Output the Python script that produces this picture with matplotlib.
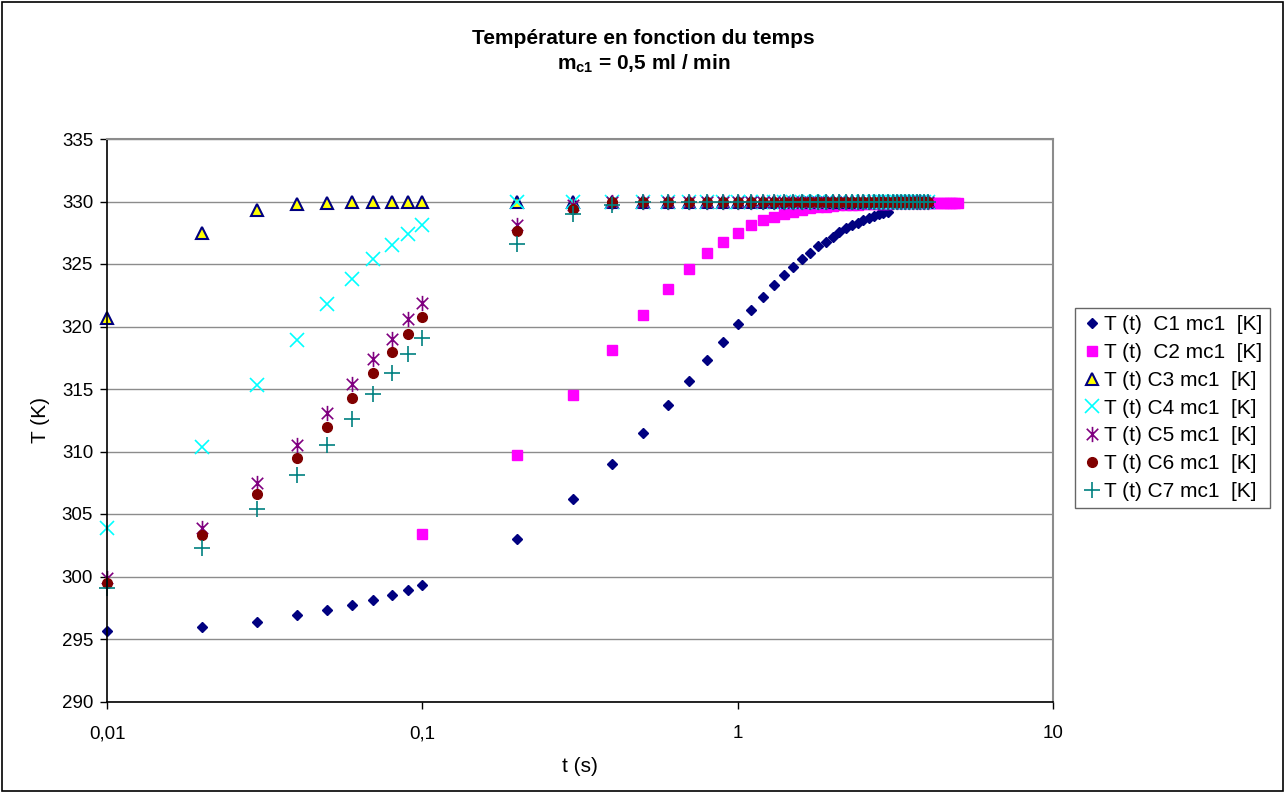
import numpy as np
import matplotlib
matplotlib.use("Agg")
import matplotlib.pyplot as plt
from matplotlib.path import Path
from matplotlib.patches import Rectangle
from matplotlib.ticker import FixedLocator, FixedFormatter, NullLocator

plt.rcParams['font.family'] = ['Liberation Sans', 'DejaVu Sans']
plt.rcParams['mathtext.fontset'] = 'custom'
plt.rcParams['mathtext.rm'] = 'Liberation Sans'
plt.rcParams['mathtext.bf'] = 'Liberation Sans:bold'
plt.rcParams['mathtext.it'] = 'Liberation Sans:italic'

# time steps (s): 0.01 -> 0.1 by 0.01, then 0.2 -> 5.0 by 0.1
t = [0.01, 0.02, 0.03, 0.04, 0.05, 0.06, 0.07, 0.08, 0.09, 0.1,
     0.2, 0.3, 0.4, 0.5, 0.6, 0.7, 0.8, 0.9, 1.0,
     1.1, 1.2, 1.3, 1.4, 1.5, 1.6, 1.7, 1.8, 1.9, 2.0,
     2.1, 2.2, 2.3, 2.4, 2.5, 2.6, 2.7, 2.8, 2.9, 3.0,
     3.1, 3.2, 3.3, 3.4, 3.5, 3.6, 3.7, 3.8, 3.9, 4.0,
     4.1, 4.2, 4.3, 4.4, 4.5, 4.6, 4.7, 4.8, 4.9, 5.0]

# temperatures (K) per thermocouple
T_c1 = [295.6, 296.0, 296.4, 296.9, 297.3, 297.7, 298.1, 298.5, 298.9, 299.3,
        303.0, 306.2, 309.0, 311.5, 313.7, 315.6, 317.3, 318.8, 320.2,
        321.3, 322.4, 323.3, 324.1, 324.8, 325.4, 325.9, 326.45, 326.8, 327.2,
        327.55, 327.85, 328.1, 328.3, 328.5, 328.7, 328.85, 329.0, 329.1, 329.2]

# C2 starts at t = 0.1 (earlier values are below 290 K)
T_c2 = [303.4,
        309.7, 314.5, 318.1, 320.9, 323.0, 324.6, 325.9, 326.8, 327.5,
        328.1, 328.5, 328.8, 329.0, 329.2, 329.35, 329.45, 329.55, 329.6, 329.65,
        329.7, 329.72, 329.74, 329.76, 329.78, 329.8, 329.81, 329.82, 329.83, 329.84,
        329.85, 329.85, 329.85, 329.85, 329.85, 329.85, 329.85, 329.85, 329.86, 329.86,
        329.86, 329.86, 329.86, 329.86, 329.86, 329.86, 329.86, 329.86, 329.86, 329.86]

T_c3 = [320.7, 327.5, 329.3, 329.8, 329.9, 330.0, 330.0, 330.0, 330.0, 330.0,
        330.0, 330.0, 330.0, 330.0, 330.0, 330.0, 330.0, 330.0, 330.0,
        330.0, 330.0, 330.0, 330.0, 330.0, 330.0, 330.0, 330.0, 330.0, 330.0,
        330.0, 330.0, 330.0, 330.0, 330.0, 330.0, 330.0, 330.0, 330.0, 330.0,
        330.0, 330.0, 330.0, 330.0, 330.0, 330.0, 330.0, 330.0, 330.0, 330.0]

T_c4 = [303.9, 310.4, 315.3, 318.9, 321.8, 323.8, 325.4, 326.5, 327.4, 328.1,
        330.0, 330.0, 330.0, 330.0, 330.0, 330.0, 330.0, 330.0, 330.0,
        330.0, 330.0, 330.0, 330.0, 330.0, 330.0, 330.0, 330.0, 330.0, 330.0,
        330.0, 330.0, 330.0, 330.0, 330.0, 330.0, 330.0, 330.0, 330.0, 330.0,
        330.0, 330.0, 330.0, 330.0, 330.0, 330.0, 330.0, 330.0, 330.0, 330.0]

T_c5 = [299.9, 303.9, 307.5, 310.5, 313.1, 315.4, 317.4, 319.0, 320.6, 321.9,
        328.1, 329.7, 330.0, 330.0, 330.0, 330.0, 330.0, 330.0, 330.0,
        330.0, 330.0, 330.0, 330.0, 330.0, 330.0, 330.0, 330.0, 330.0, 330.0,
        330.0, 330.0, 330.0, 330.0, 330.0, 330.0, 330.0, 330.0, 330.0, 330.0,
        330.0, 330.0, 330.0, 330.0, 330.0, 330.0, 330.0, 330.0, 330.0, 330.0]

T_c6 = [299.5, 303.3, 306.6, 309.5, 312.0, 314.3, 316.3, 318.0, 319.4, 320.8,
        327.6, 329.4, 330.0, 330.0, 330.0, 330.0, 330.0, 330.0, 330.0,
        330.0, 330.0, 330.0, 330.0, 330.0, 330.0, 330.0, 330.0, 330.0, 330.0,
        330.0, 330.0, 330.0, 330.0, 330.0, 330.0, 330.0, 330.0, 330.0, 330.0,
        330.0, 330.0, 330.0, 330.0, 330.0, 330.0, 330.0, 330.0, 330.0, 330.0]

T_c7 = [299.1, 302.3, 305.4, 308.1, 310.5, 312.6, 314.6, 316.3, 317.8, 319.1,
        326.6, 329.0, 329.7, 330.0, 330.0, 330.0, 330.0, 330.0, 330.0,
        330.0, 330.0, 330.0, 330.0, 330.0, 330.0, 330.0, 330.0, 330.0, 330.0,
        330.0, 330.0, 330.0, 330.0, 330.0, 330.0, 330.0, 330.0, 330.0, 330.0,
        330.0, 330.0, 330.0, 330.0, 330.0, 330.0, 330.0, 330.0, 330.0, 330.0]

labels = ["T (t)  C1 mc1  [K]", "T (t)  C2 mc1  [K]", "T (t) C3 mc1  [K]",
          "T (t) C4 mc1  [K]", "T (t) C5 mc1  [K]", "T (t) C6 mc1  [K]",
          "T (t) C7 mc1  [K]"]

x_ticks = [0.01, 0.1, 1, 10]
x_ticklabels = ["0,01", "0,1", "1", "10"]
y_ticks = [290, 295, 300, 305, 310, 315, 320, 325, 330, 335]

# asterisk marker: an X with a vertical bar through it
asterisk = Path([(0, -1), (0, 1), (-0.75, -0.75), (0.75, 0.75), (-0.75, 0.75), (0.75, -0.75)],
                [Path.MOVETO, Path.LINETO, Path.MOVETO, Path.LINETO, Path.MOVETO, Path.LINETO])

fig = plt.figure(figsize=(12.85, 7.93), dpi=100)
ax = fig.add_axes([107 / 1285, 1 - 701.5 / 793, (1053 - 107) / 1285, (701.5 - 139) / 793])

n1 = len(T_c1)
n2 = len(T_c2)
n3 = len(T_c3)
common = dict(ls='none', clip_on=False)
ax.plot(t[:n1], T_c1, marker='D', ms=5.5, color='#000080', label=labels[0], **common)
ax.plot(t[9:9 + n2], T_c2, marker='s', ms=6.5, color='#FF00FF', label=labels[1], **common)
ax.plot(t[:n3], T_c3, marker='^', ms=8.5, mfc='#FFFF00', mec='#000080', mew=1.5, label=labels[2], **common)
ax.plot(t[:n3], T_c4, marker='x', ms=9.5, mew=1.2, color='#00FFFF', label=labels[3], **common)
ax.plot(t[:n3], T_c5, marker=asterisk, ms=11, mew=1.2, color='#800080', label=labels[4], **common)
ax.plot(t[:n3], T_c6, marker='o', ms=7, color='#800000', label=labels[5], **common)
ax.plot(t[:n3], T_c7, marker='+', ms=11, mew=1.2, color='#008080', label=labels[6], **common)

ax.set_xscale('log')
ax.set_xlim(0.01, 10)
ax.set_ylim(290, 335)
ax.xaxis.set_major_locator(FixedLocator(x_ticks))
ax.xaxis.set_major_formatter(FixedFormatter(x_ticklabels))
ax.xaxis.set_minor_locator(NullLocator())
ax.set_yticks(y_ticks)
ax.tick_params(axis='both', labelsize=13.5, direction='out', length=5, width=1, color='black')
ax.tick_params(axis='x', pad=12)
ax.tick_params(axis='y', pad=5)

ax.yaxis.grid(True, color='#8c8c8c', lw=1)
ax.set_axisbelow(True)
for side in ['top', 'right']:
    ax.spines[side].set_color('#8c8c8c')
    ax.spines[side].set_linewidth(1.5)
for side in ['left', 'bottom']:
    ax.spines[side].set_color('black')
    ax.spines[side].set_linewidth(1.2)

fig.text(0.501, 1 - 38 / 793, "Température en fonction du temps", ha='center', va='center',
         fontsize=15, fontweight='bold')
fig.text(0.501, 1 - 64 / 793, r"$\mathbf{m_{c1}}$ = 0,5 ml / min", ha='center', va='center',
         fontsize=15, fontweight='bold')
fig.text(40 / 1285, 1 - 420 / 793, "T (K)", rotation=90, ha='center', va='center', fontsize=15)
fig.text(580 / 1285, 1 - 766 / 793, "t (s)", ha='center', va='center', fontsize=15)

leg = fig.legend(loc='upper left', bbox_to_anchor=(1075 / 1285, 1 - 308 / 793),
                 fontsize=15, frameon=True, fancybox=False, edgecolor='#404040',
                 handlelength=0.9, handletextpad=0.15, labelspacing=0.42,
                 borderpad=0.35, borderaxespad=0)
leg.get_frame().set_linewidth(1)

fig.patches.append(Rectangle((0.0015, 0.002), 0.997, 0.995, transform=fig.transFigure,
                             fill=False, edgecolor='black', lw=1.2))

fig.savefig("out.png", dpi=100, facecolor='white')
